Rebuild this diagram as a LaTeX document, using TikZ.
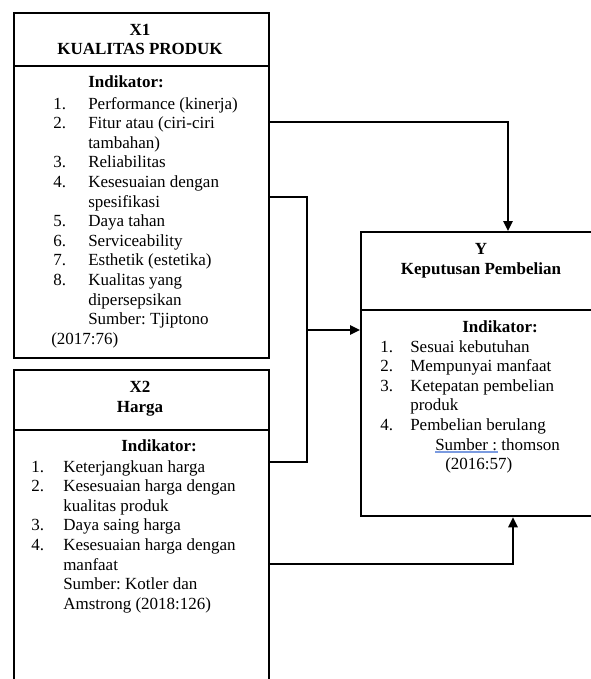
\documentclass[tikz,border=0pt]{standalone}
\usepackage{fontspec}
\setmainfont{Liberation Serif}
\usetikzlibrary{arrows.meta}
\definecolor{garisbiru}{HTML}{7B9BE0}
\frenchspacing

\begin{document}
\begin{tikzpicture}[x=0.75pt, y=-0.75pt, font=\fontsize{12.75pt}{14.7pt}\selectfont,
    kotak/.style={draw, line width=1.7pt, inner sep=0pt, anchor=north west},
    judul/.style={anchor=base, inner sep=0pt, font=\fontsize{12.75pt}{14.7pt}\selectfont\bfseries},
    tebal/.style={anchor=base west, inner sep=0pt, font=\fontsize{12.75pt}{14.7pt}\selectfont\bfseries},
    isi/.style={anchor=base west, inner sep=0pt},
    garis/.style={line width=1.5pt},
    panah/.style={line width=1.5pt, -{Triangle[length=7.5pt,width=7pt]}}]
  \clip (0,0) rectangle (591,679);

  % kotak X1, X2 dan Y
  \node[kotak, minimum width=191.5pt, minimum height=40pt] (x1kepala) at (12.7,11.7) {};
  \node[kotak, minimum width=191.5pt, minimum height=219pt] (x1isi) at (12.7,65) {};
  \node[kotak, minimum width=191.5pt, minimum height=45pt] (x2kepala) at (12.7,369) {};
  \node[kotak, minimum width=191.5pt, minimum height=210pt] (x2isi) at (12.7,429) {};
  \node[kotak, minimum width=181.5pt, minimum height=58.5pt] (ykepala) at (360,231) {};
  \node[kotak, minimum width=181.5pt, minimum height=154.5pt] (yisi) at (360,309) {};

  \node[judul] (x1judul) at (140,35) {\begin{tabular}[t]{@{}c@{}}X1\\KUALITAS PRODUK\end{tabular}};
  \node[judul] (x2judul) at (140,392.6) {\begin{tabular}[t]{@{}c@{}}X2\\Harga\end{tabular}};
  \node[judul] (yjudul) at (481,254.6) {\begin{tabular}[t]{@{}c@{}}Y\\Keputusan Pembelian\end{tabular}};

  \node[tebal] (x1indikator) at (88,87.5) {Indikator:};
  \node[tebal] (x2indikator) at (121,451.5) {Indikator:};
  \node[tebal] (yindikator) at (462,332.5) {Indikator:};

  \node[isi] (x1daftar) at (53,109) {\begin{tabular}[t]{@{}p{26.25pt}@{}l@{}}
    1. & Performance (kinerja)\\
    2. & Fitur atau (ciri-ciri\\
       & tambahan)\\
    3. & Reliabilitas\\
    4. & Kesesuaian dengan\\
       & spesifikasi\\
    5. & Daya tahan\\
    6. & Serviceability\\
    7. & Esthetik (estetika)\\
    8. & Kualitas yang\\
       & dipersepsikan\\
       & Sumber: Tjiptono\\
    \multicolumn{2}{@{}l@{}}{\hspace*{-1.5pt}(2017:76)}
  \end{tabular}};

  \node[isi] (x2daftar) at (31,472) {\begin{tabular}[t]{@{}p{24pt}@{}l@{}}
    1. & Keterjangkuan harga\\
    2. & Kesesuaian harga dengan\\
       & kualitas produk\\
    3. & Daya saing harga\\
    4. & Kesesuaian harga dengan\\
       & manfaat\\
       & Sumber: Kotler dan\\
       & Amstrong (2018:126)
  \end{tabular}};

  \node[isi] (ydaftar) at (380,352) {\begin{tabular}[t]{@{}p{22.5pt}@{}l@{}}
    1. & Sesuai kebutuhan\\
    2. & Mempunyai manfaat\\
    3. & Ketepatan pembelian\\
       & produk\\
    4. & Pembelian berulang\\
       & \hspace*{18.75pt}Sumber : thomson\\
       & \hspace*{26.25pt}(2016:57)
  \end{tabular}};
  \draw[line width=1pt, garisbiru] (435,452) -- (498,452);

  % panah ke Y
  \coordinate (k1) at (508,122);
  \draw[panah] (k1 -| x1isi.east) -- (k1) -- (k1 |- ykepala.north);

  \coordinate (k2) at (307,197);
  \coordinate (k3) at (307,462);
  \coordinate (k4) at (307,330);
  \draw[garis] (k2 -| x1isi.east) -- (k2) -- (k3) -- (k3 -| x2isi.east);
  \draw[panah] (k4) -- (k4 -| yisi.west);

  \coordinate (k5) at (513,564);
  \draw[panah] (k5 -| x2isi.east) -- (k5) -- (k5 |- yisi.south);
\end{tikzpicture}
\end{document}
